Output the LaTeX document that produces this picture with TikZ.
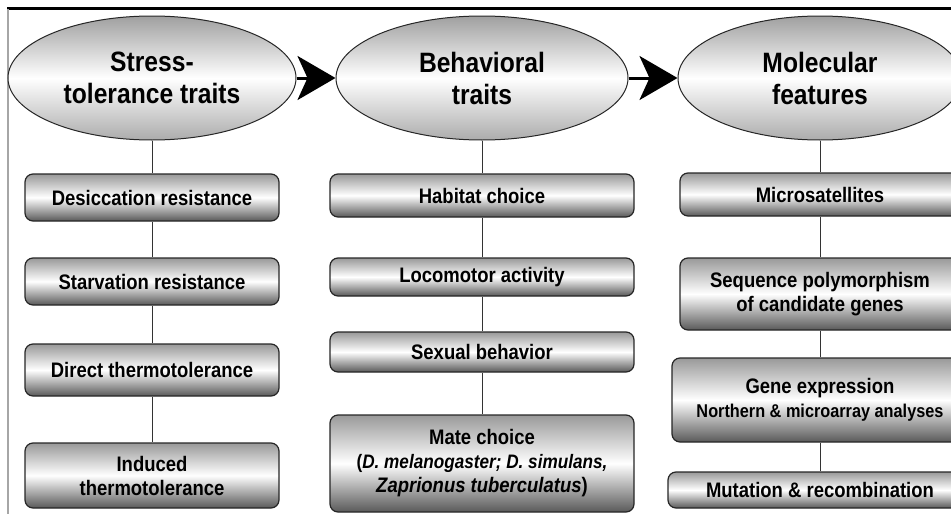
\documentclass[tikz,border=0pt]{standalone}
\usepackage{fontspec}
\newfontfamily\diagfont[FakeStretch=0.88]{Liberation Sans}
\usetikzlibrary{shapes.geometric, arrows.meta}

\begin{document}
\begin{tikzpicture}[x=1pt, y=-1pt,
  traitellipse/.style={ellipse, draw=black!85, line width=1pt, top color=gray!75, bottom color=gray!65, middle color=white, minimum width=288pt, minimum height=124pt, inner sep=0pt, align=center, font=\diagfont\bfseries\fontsize{28}{32}\selectfont},
  traitbox/.style={rectangle, rounded corners=8pt, draw=black!85, line width=1.2pt, top color=gray!80, bottom color=black!65, middle color=white, inner sep=0pt, align=center, font=\diagfont\bfseries\fontsize{21}{24}\selectfont},
  stem/.style={draw=black!80, line width=1pt},
  flowarrow/.style={line width=3pt, -{Stealth[length=38pt, width=44pt, inset=10pt]}}]
\useasboundingbox (0,0) rectangle (951,514);
\clip (0,0) rectangle (951,514);
\draw[line width=3pt] (7,8) -- (951,8);
\draw[gray!70, line width=1.2pt] (8,9) -- (8,514);

\node[traitellipse] (stress) at (152,78) {Stress-\\tolerance traits};
\node[traitellipse, minimum width=292pt] (behav) at (482,78) {Behavioral\\traits};
\node[traitellipse, minimum width=284pt] (molec) at (820,78) {Molecular\\features};

\node[traitbox, minimum width=254pt, minimum height=47pt] (desic) at (152,197.5) {Desiccation resistance};
\node[traitbox, minimum width=254pt, minimum height=47pt] (starv) at (152,281.5) {Starvation resistance};
\node[traitbox, minimum width=254pt, minimum height=52pt] (direct) at (152,370) {Direct thermotolerance};
\node[traitbox, minimum width=254pt, minimum height=65pt] (induced) at (152,475.5) {Induced\\thermotolerance};

\node[traitbox, minimum width=304pt, minimum height=43pt] (habitat) at (482,195.5) {Habitat choice};
\node[traitbox, minimum width=304pt, minimum height=38pt] (locom) at (482,277) {Locomotor activity};
\node[traitbox, minimum width=304pt, minimum height=40pt] (sexual) at (482,352) {Sexual behavior};
\node[traitbox, minimum width=304pt, minimum height=97pt] (mate) at (482,463.5) {Mate choice\\\fontsize{19.5}{24.5}\selectfont(\textit{D. melanogaster; D. simulans,}\\\textit{Zaprionus tuberculatus})};

\node[traitbox, minimum width=280pt, minimum height=43pt] (micro) at (820,194.5) {Microsatellites};
\node[traitbox, minimum width=280pt, minimum height=72pt] (seqpoly) at (820,294) {Sequence polymorphism\\of candidate genes};
\node[traitbox, minimum width=296pt, minimum height=84pt] (geneexp) at (820,400) {Gene expression\\\fontsize{18.5}{25}\selectfont Northern \& microarray analyses};
\node[traitbox, minimum width=304pt, minimum height=36pt] (mutrec) at (820,490) {Mutation \& recombination};

\draw[stem] (stress) -- (desic);
\draw[stem] (desic) -- (starv);
\draw[stem] (starv) -- (direct);
\draw[stem] (direct) -- (induced);
\draw[stem] (behav) -- (habitat);
\draw[stem] (habitat) -- (locom);
\draw[stem] (locom) -- (sexual);
\draw[stem] (sexual) -- (mate);
\draw[stem] (molec) -- (micro);
\draw[stem] (micro) -- (seqpoly);
\draw[stem] (seqpoly) -- (geneexp);
\draw[stem] (geneexp) -- (mutrec);

\draw[flowarrow] (stress) -- (behav);
\draw[flowarrow] (behav) -- (molec);
\end{tikzpicture}
\end{document}
